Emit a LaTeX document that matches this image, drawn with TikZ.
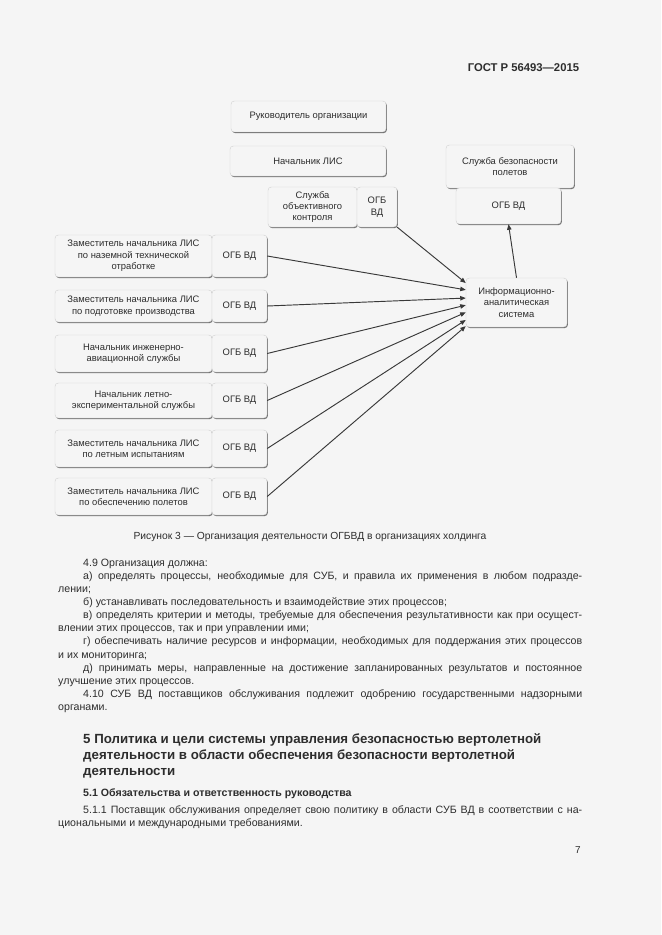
\documentclass[tikz,border=0pt]{standalone}
\usepackage{fontspec}
\setmainfont{Liberation Sans}
\usetikzlibrary{positioning,arrows.meta,shadows}
\definecolor{pagebg}{RGB}{245,245,245}
\definecolor{ink}{RGB}{45,45,45}
\newlength{\pxu}
\setlength{\pxu}{0.3177mm}
\begin{document}
\begin{tikzpicture}[x=\pxu, y=-\pxu,
    wh/.style 2 args={minimum width=#1\pxu, minimum height=#2\pxu},
    unit/.style={draw=gray!35, rounded corners=3pt, fill=pagebg, inner sep=1pt,
      drop shadow={shadow xshift=0.8pt, shadow yshift=-1pt, fill=gray!70!black, opacity=0.85},
      align=center, text=ink, font=\fontsize{8.5}{10.3}\selectfont},
    link/.style={-{Triangle[length=5pt,width=4pt]}, draw=gray!45!black, line width=0.85pt}]
  \fill[pagebg] (0,0) rectangle (661,935);
  \useasboundingbox (0,0) rectangle (661,935);

  \node[anchor=base east, font=\bfseries\fontsize{10.2}{12}\selectfont, text=ink] (gost) at (583,72) {ГОСТ Р 56493—2015};

  % top of the scheme
  \node[unit, wh={155}{31}] (boss) at (308.5,116.5) {Руководитель организации};
  \node[unit, wh={156}{30}] (lis) at (308,161) {Начальник ЛИС};
  \node[unit, wh={128}{43}] (safety) at (510,166.5) {Служба безопасности\\полетов};
  \node[unit, wh={105}{36}] (ogbs) at (508.5,206) {ОГБ ВД};
  \node[unit, wh={89}{40}] (okk) at (312.5,207) {Служба\\объективного\\контроля};
  \node[unit, wh={40}{40}] (ogb0) at (377,207) {ОГБ\\ВД};

  % left column
  \node[unit, wh={157}{42}] (dep1) at (133.5,256) {Заместитель начальника ЛИС\\по наземной технической\\отработке};
  \node[unit, wh={55}{42}] (ogb1) at (239.5,256) {ОГБ ВД};
  \node[unit, wh={157}{32}] (dep2) at (133.5,306) {Заместитель начальника ЛИС\\по подготовке производства};
  \node[unit, wh={55}{32}] (ogb2) at (239.5,306) {ОГБ ВД};
  \node[unit, wh={157}{37}] (dep3) at (133.5,353.5) {Начальник инженерно-\\авиационной службы};
  \node[unit, wh={55}{37}] (ogb3) at (239.5,353.5) {ОГБ ВД};
  \node[unit, wh={157}{35}] (dep4) at (133.5,400.5) {Начальник летно-\\экспериментальной службы};
  \node[unit, wh={55}{35}] (ogb4) at (239.5,400.5) {ОГБ ВД};
  \node[unit, wh={157}{37}] (dep5) at (133.5,448.5) {Заместитель начальника ЛИС\\по летным испытаниям};
  \node[unit, wh={55}{37}] (ogb5) at (239.5,448.5) {ОГБ ВД};
  \node[unit, wh={157}{37}] (dep6) at (133.5,496.5) {Заместитель начальника ЛИС\\по обеспечению полетов};
  \node[unit, wh={55}{37}] (ogb6) at (239.5,496.5) {ОГБ ВД};

  \node[unit, wh={101}{49}] (ias) at (516.5,302.5) {Информационно-\\аналитическая\\система};

  \draw[link] (ogb0.south east) to (ias.159);
  \draw[link] (ogb1.east) to (ias.166);
  \draw[link] (ogb2.east) to (ias.175);
  \draw[link] (ogb3.east) to (ias.183);
  \draw[link] (ogb4.east) to (ias.191);
  \draw[link] (ogb5.east) to (ias.199);
  \draw[link] (ogb6.east) to (ias.205);
  \draw[link] (ias.north) to (ogbs.south);

  \node[font=\fontsize{9.3}{11}\selectfont, text=ink] (caption) at (310,537) {Рисунок 3 — Организация деятельности ОГБВД в организациях холдинга};

  % page text
  \node[anchor=north west, inner sep=0pt, text width=524\pxu, align=justify, text=ink,
    font=\fontsize{9.6}{11.8}\selectfont] (body) at (58,559) {%
    \hspace*{25\pxu}4.9 Организация должна:\par
    \hspace*{25\pxu}а) определять процессы, необходимые для СУБ, и правила их применения в любом подразде-\linebreak лении;\par
    \hspace*{25\pxu}б) устанавливать последовательность и взаимодействие этих процессов;\par
    \hspace*{25\pxu}в) определять критерии и методы, требуемые для обеспечения результативности как при осущест-\linebreak влении этих процессов, так и при управлении ими;\par
    \hspace*{25\pxu}г) обеспечивать наличие ресурсов и информации, необходимых для поддержания этих процессов\linebreak и их мониторинга;\par
    \hspace*{25\pxu}д) принимать меры, направленные на достижение запланированных результатов и постоянное\linebreak улучшение этих процессов.\par
    \hspace*{25\pxu}4.10 СУБ ВД поставщиков обслуживания подлежит одобрению государственными надзорными\linebreak органами.};

  \node[anchor=north west, inner sep=0pt, align=left, text=ink,
    font=\bfseries\fontsize{12}{14.6}\selectfont] (part5) at (83,733) {5 Политика и цели системы управления безопасностью вертолетной\\деятельности в области обеспечения безопасности вертолетной\\деятельности};
  \node[anchor=north west, inner sep=0pt, text=ink,
    font=\bfseries\fontsize{9.6}{11.8}\selectfont] (part51) at (83,788) {5.1 Обязательства и ответственность руководства};
  \node[anchor=north west, inner sep=0pt, text width=524\pxu, align=justify, text=ink,
    font=\fontsize{9.6}{11.8}\selectfont] (body511) at (58,805) {%
    \hspace*{25\pxu}5.1.1 Поставщик обслуживания определяет свою политику в области СУБ ВД в соответствии с на-\linebreak циональными и международными требованиями.};

  \node[font=\fontsize{9}{11}\selectfont, text=ink] (pagenum) at (578,850) {7};
\end{tikzpicture}
\end{document}
